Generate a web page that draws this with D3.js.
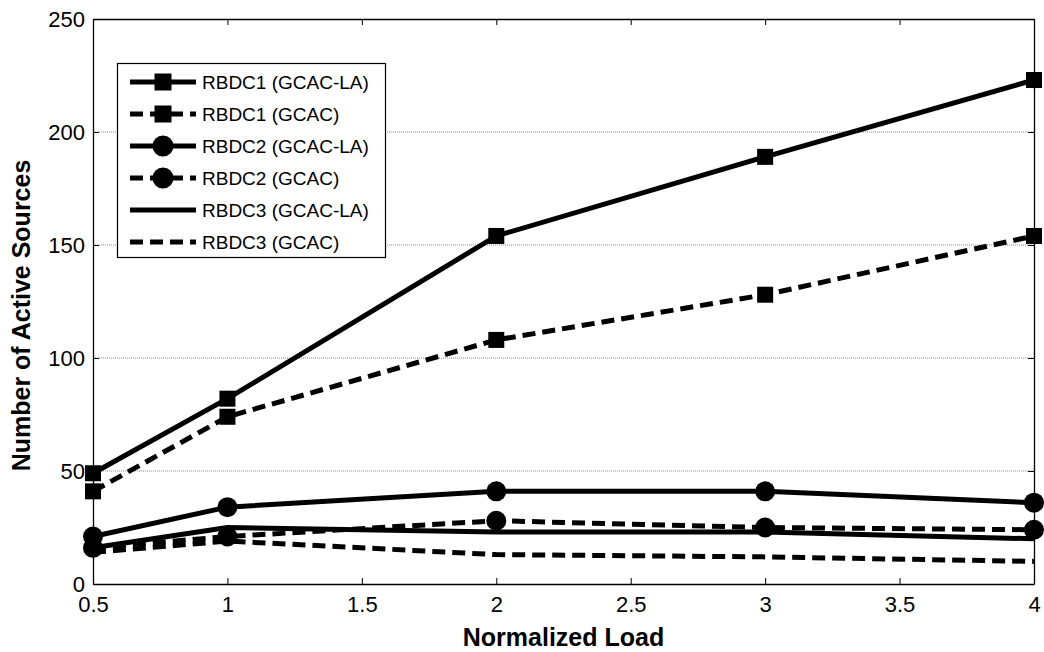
<!DOCTYPE html>
<html><head><meta charset="utf-8">
<script src="https://cdn.jsdelivr.net/npm/d3@7"></script>
<style>body{margin:0;background:#fff}svg{display:block;font-family:"Liberation Sans",Arial,sans-serif}</style>
</head><body><svg id="c" width="1044" height="652"></svg>
<script>
const loads = [0.5, 1, 2, 3, 4];
const rbdc1LA = [49, 82, 154, 189, 223];
const rbdc1 = [41, 74, 108, 128, 154];
const rbdc2LA = [21, 34, 41, 41, 36];
const rbdc2 = [16, 21, 28, 25, 24];
const rbdc3LA = [16, 25, 23, 23, 20];
const rbdc3 = [14, 19, 13, 12, 10];
const seriesNames = ["RBDC1 (GCAC-LA)","RBDC1 (GCAC)","RBDC2 (GCAC-LA)","RBDC2 (GCAC)","RBDC3 (GCAC-LA)","RBDC3 (GCAC)"];
const xTicks = [0.5, 1, 1.5, 2, 2.5, 3, 3.5, 4];
const yTicks = [0, 50, 100, 150, 200, 250];

const series = [
  {name: seriesNames[0], v: rbdc1LA, dash: null, marker: "square"},
  {name: seriesNames[1], v: rbdc1, dash: "13,7", marker: "square"},
  {name: seriesNames[2], v: rbdc2LA, dash: null, marker: "circle"},
  {name: seriesNames[3], v: rbdc2, dash: "13,7", marker: "circle"},
  {name: seriesNames[4], v: rbdc3LA, dash: null, marker: null},
  {name: seriesNames[5], v: rbdc3, dash: "13,7", marker: null}
];

const L = 93, R = 1034, T = 19, B = 584;
const svg = d3.select("#c");
const x = d3.scaleLinear().domain([0.5, 4]).range([L, R]);
const y = d3.scaleLinear().domain([0, 250]).range([B, T]);

// gridlines
svg.append("g").selectAll("line").data(yTicks.filter(d => d > 0 && d < 250)).join("line")
  .attr("x1", L).attr("x2", R).attr("y1", d => y(d)).attr("y2", d => y(d))
  .attr("stroke", "#888").attr("stroke-width", 1).attr("stroke-dasharray", "1,1");

// axes with inward ticks
const ax = svg.append("g").attr("transform", `translate(0,${B})`)
  .call(d3.axisBottom(x).tickValues(xTicks).tickFormat(d3.format("")).tickSizeInner(-6).tickSizeOuter(0).tickPadding(12));
const axT = svg.append("g").attr("transform", `translate(0,${T})`)
  .call(d3.axisTop(x).tickValues(xTicks).tickFormat("").tickSizeInner(-6).tickSizeOuter(0));
const ay = svg.append("g").attr("transform", `translate(${L},0)`)
  .call(d3.axisLeft(y).tickValues(yTicks).tickSizeInner(-6).tickSizeOuter(0).tickPadding(8));
const ayR = svg.append("g").attr("transform", `translate(${R},0)`)
  .call(d3.axisRight(y).tickValues(yTicks).tickFormat("").tickSizeInner(-6).tickSizeOuter(0));
[ax, axT, ay, ayR].forEach(g => {
  g.selectAll("path").attr("stroke", "#000").attr("stroke-width", 1.3);
  g.selectAll("line").attr("stroke", "#000");
  g.selectAll("text").attr("font-size", 22).attr("font-family", '"Liberation Sans",Arial,sans-serif').attr("fill", "#000");
});
ax.selectAll("text").attr("dy", "0.71em");

// lines
const line = d3.line().x((d, i) => x(loads[i])).y(d => y(d));
const gS = svg.append("g");
series.forEach(s => {
  gS.append("path").datum(s.v).attr("d", line).attr("fill", "none")
    .attr("stroke", "#000").attr("stroke-width", 5)
    .attr("stroke-dasharray", s.dash);
});
function drawMarker(g, type, cx, cy, size) {
  if (type === "square") {
    g.append("rect").attr("x", cx - size/2).attr("y", cy - size/2).attr("width", size).attr("height", size).attr("fill", "#000");
  } else if (type === "circle") {
    g.append("circle").attr("cx", cx).attr("cy", cy).attr("r", size/2 + 2).attr("fill", "#000");
  }
}
series.forEach(s => {
  if (!s.marker) return;
  s.v.forEach((d, i) => drawMarker(gS, s.marker, x(loads[i]), y(d), 16));
});

// legend
const lg = svg.append("g");
lg.append("rect").attr("x", 117.5).attr("y", 63.5).attr("width", 268).attr("height", 194)
  .attr("fill", "#fff").attr("stroke", "#000").attr("stroke-width", 1.2);
series.forEach((s, i) => {
  const cy = 82 + i * 32;
  lg.append("line").attr("x1", 130).attr("x2", 196).attr("y1", cy).attr("y2", cy)
    .attr("stroke", "#000").attr("stroke-width", 5).attr("stroke-dasharray", s.dash);
  if (s.marker) drawMarker(lg, s.marker, 163, cy, 17);
  lg.append("text").attr("x", 202).attr("y", cy).attr("dy", "0.36em")
    .attr("font-size", 19).attr("fill", "#000").text(s.name);
});

// titles
svg.append("text").attr("x", (L + R) / 2).attr("y", 646).attr("text-anchor", "middle")
  .attr("font-size", 25).attr("font-weight", "bold").text("Normalized Load");
svg.append("text").attr("transform", `translate(30,${(T + B) / 2 + 14}) rotate(-90)`).attr("text-anchor", "middle")
  .attr("font-size", 25).attr("font-weight", "bold").text("Number of Active Sources");
</script></body></html>
